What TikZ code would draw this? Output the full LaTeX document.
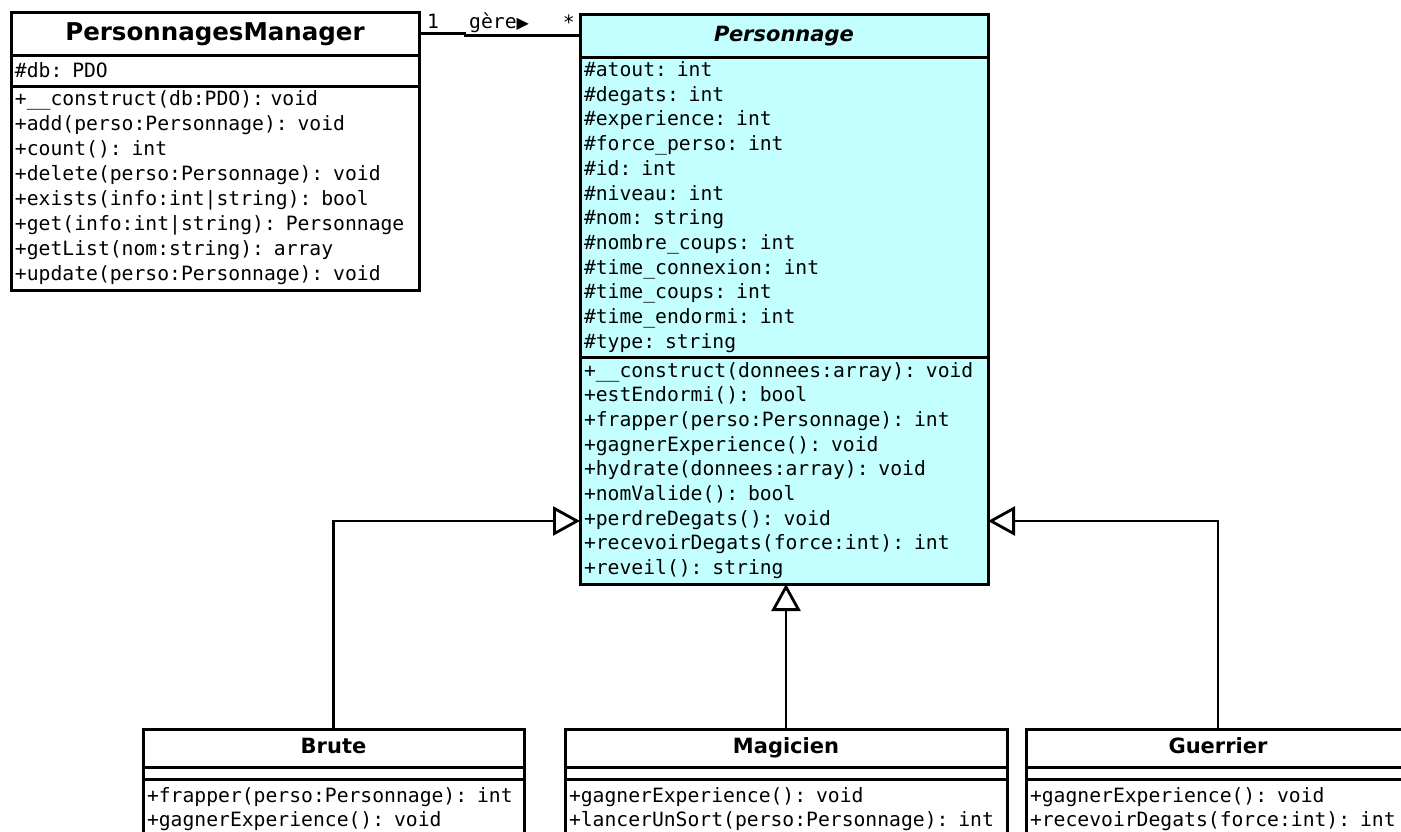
\documentclass[tikz,border=0pt]{standalone}
\usepackage{fontspec}
\newfontfamily\memberfont{DejaVu Sans Mono}
\newfontfamily\headfont{DejaVu Sans}
\usetikzlibrary{positioning, arrows.meta}
\definecolor{persofill}{RGB}{196,255,255}
\tikzset{
  classbox/.style={draw, line width=3pt, outer sep=0pt, inner sep=0pt},
  classname/.style={classbox, minimum height=43, text height=15pt, text depth=4pt, font=\headfont\bfseries\fontsize{21}{25}\selectfont},
  members/.style={classbox, align=left, inner xsep=4pt, font=\memberfont\fontsize{19.7}{24.7}\selectfont},
  abstractcls/.style={fill=persofill},
  gen/.style={line width=2.8pt, -{Triangle[open, length=27pt, width=29pt]}},
  assoc/.style={line width=2.4pt},
  multip/.style={inner sep=0pt, font=\memberfont\fontsize{19.7}{24.7}\selectfont},
}

\begin{document}
\begin{tikzpicture}[x=1pt, y=-1pt]
\useasboundingbox (0,0) rectangle (1401,831);
\clip (0,0) rectangle (1401,831);

%manager class
\node[classname, minimum width=408, anchor=north west, text height=18pt, text depth=5pt,
      font=\headfont\bfseries\fontsize{24.5}{29}\selectfont] (pm) at (11,12) {PersonnagesManager};
\node[members, text width=400pt, minimum height=31, below=0pt of pm] (pm-attr) {\#db: PDO};
\node[members, text width=400pt, minimum height=204, below=0pt of pm-attr,
      font=\memberfont\fontsize{19.7}{25}\selectfont] (pm-meth) {%
  +\_\_construct(db:PDO): void\\+add(perso:Personnage): void\\+count(): int\\
  +delete(perso:Personnage): void\\+exists(info:int|string): bool\\
  +get(info:int|string): Personnage\\+getList(nom:string): array\\+update(perso:Personnage): void};

%abstract class
\node[classname, abstractcls, minimum width=408, anchor=north west,
      font=\headfont\bfseries\itshape\fontsize{21}{25}\selectfont] (perso) at (580,14) {Personnage};
\node[members, abstractcls, text width=400pt, minimum height=300, below=0pt of perso] (perso-attr) {%
  \#atout: int\\\#degats: int\\\#experience: int\\\#force\_perso: int\\\#id: int\\\#niveau: int\\
  \#nom: string\\\#nombre\_coups: int\\\#time\_connexion: int\\\#time\_coups: int\\
  \#time\_endormi: int\\\#type: string};
\node[members, abstractcls, text width=400pt, minimum height=227, below=0pt of perso-attr] (perso-meth) {%
  +\_\_construct(donnees:array): void\\+estEndormi(): bool\\+frapper(perso:Personnage): int\\
  +gagnerExperience(): void\\+hydrate(donnees:array): void\\+nomValide(): bool\\
  +perdreDegats(): void\\+recevoirDegats(force:int): int\\+reveil(): string};

%association
\draw[assoc] (pm.east) -- ++(46,0) |- (perso.west);
\node[multip, anchor=base west] (mult-pm)    at ([shift={(8,-5)}]pm.east)      {1};
\node[multip, anchor=base west] (assoc-name) at ([shift={(50,-5)}]pm.east)
     {gère{\headfont\fontsize{16}{16}\selectfont\raisebox{0.5pt}{▶}}};
\node[multip, anchor=base east] (mult-perso) at ([shift={(-5,-6)}]perso.west)  {*};

%subclasses
\foreach \Name/\Title/\xLeft/\Width/\Ops [evaluate=\Width as \TextWidth using \Width-8] in {%
    brute/Brute/143/381/{+frapper(perso:Personnage): int\\+gagnerExperience(): void},
    magicien/Magicien/565/442/{+gagnerExperience(): void\\+lancerUnSort(perso:Personnage): int},
    guerrier/Guerrier/1026/384/{+gagnerExperience(): void\\+recevoirDegats(force:int): int}%
    }{
  \node[classname, minimum width=\Width, minimum height=38, anchor=north west] (\Name) at (\xLeft,729) {\Title};
  \node[members, minimum width=\Width, minimum height=12, below=0pt of \Name] (\Name-attr) {};
  \node[members, text width=\TextWidth pt, minimum height=60, below=0pt of \Name-attr] (\Name-meth) {\Ops};
}

%generalisations
\coordinate (gen-y) at (0,521);
\draw[gen] (brute.north)    |- (perso-meth.west |- gen-y);
\draw[gen] (magicien.north) -- (magicien.north |- perso-meth.south);
\draw[gen] (guerrier.north) |- (perso-meth.east |- gen-y);

\end{tikzpicture}
\end{document}
